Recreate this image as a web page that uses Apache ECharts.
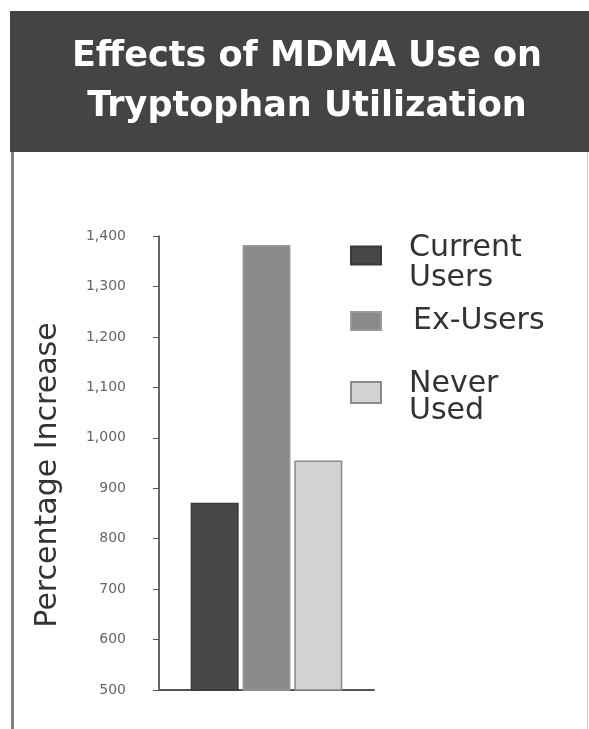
<!DOCTYPE html>
<html>
<head>
<meta charset="utf-8">
<script src="https://cdn.jsdelivr.net/npm/echarts@6.0.0/dist/echarts.min.js"></script>
<style>
html,body{margin:0;padding:0;background:#fff;}
#chart{width:589px;height:729px;}
</style>
</head>
<body>
<div id="chart"></div>
<script>
var titleLines = ['Effects of MDMA Use on', 'Tryptophan Utilization'];
var categories = [''];
var seriesNames = ['Current\nUsers', 'Ex-Users', 'Never\nUsed'];
var currentUsers = [871];
var exUsers = [1382];
var neverUsed = [955];
var yMin = 500, yMax = 1400, yStep = 100;
var yTickLabels = ['500','600','700','800','900','1,000','1,100','1,200','1,300','1,400'];
var yAxisName = 'Percentage Increase';

var colors = ['#474747', '#8a8a8a', '#d3d3d3'];
var borders = ['#3a3a3a', '#9a9a9a', '#8a8a8a'];
var values = [currentUsers, exUsers, neverUsed];
var FONT = 'DejaVu Sans';

var chart = echarts.init(document.getElementById('chart'), null, {renderer: 'canvas'});

var series = seriesNames.map(function (n, i) {
  return {
    name: n,
    type: 'bar',
    data: values[i],
    barWidth: 48,
    barGap: '8%',
    itemStyle: {color: colors[i], borderColor: borders[i], borderWidth: 1.5},
    emphasis: {disabled: true}
  };
});

// spacer: height of an invisible leading line that nudges the text below the icon centre
function legendFor(i, top, spacer, lh, padLeft, iconH) {
  return {
    orient: 'vertical',
    left: 350,
    top: top,
    padding: 0,
    data: [seriesNames[i]],
    itemWidth: 30,
    itemHeight: iconH,
    icon: 'rect',
    selectedMode: false,
    formatter: function (name) {
      var parts = name.split('\n').map(function (p) { return '{a|' + p + '}'; });
      if (spacer > 0) parts.unshift('{s| }');
      return parts.join('\n');
    },
    textStyle: {
      fontFamily: FONT, fontSize: 30, color: '#333',
      padding: [0, 0, 0, padLeft],
      rich: {
        a: {fontFamily: FONT, fontSize: 30, color: '#333', lineHeight: lh},
        s: {fontSize: 1, lineHeight: spacer}
      }
    }
  };
}

chart.setOption({
  animation: false,
  backgroundColor: '#ffffff',
  graphic: [
    {type: 'rect', shape: {x: 10, y: 11, width: 579, height: 141}, style: {fill: '#444444'}, z: -10},
    {type: 'rect', shape: {x: 11, y: 152, width: 3, height: 577}, style: {fill: '#808080'}, z: -10},
    {type: 'rect', shape: {x: 587, y: 152, width: 1, height: 577}, style: {fill: '#cfcfcf'}, z: -10}
  ],
  title: {
    text: titleLines.join('\n'),
    left: 302,
    textAlign: 'center',
    top: 27,
    textStyle: {
      color: '#ffffff', fontFamily: 'DejaVu Sans', fontWeight: 'bold', fontSize: 35, lineHeight: 50
    }
  },
  legend: [
    legendFor(0, 225, 16, 30, 23, 18),
    legendFor(1, 306, 0, 30, 27, 18),
    legendFor(2, 365, 11, 27, 23, 21)
  ],
  grid: {left: 159, right: 215, top: 236, bottom: 39, containLabel: false},
  xAxis: {
    type: 'category',
    data: categories,
    axisLine: {lineStyle: {color: '#555', width: 2}},
    axisTick: {show: false},
    axisLabel: {show: false},
    splitLine: {show: false}
  },
  yAxis: {
    type: 'value',
    min: yMin, max: yMax, interval: yStep,
    name: yAxisName,
    nameLocation: 'middle',
    nameGap: 96,
    nameTextStyle: {fontFamily: FONT, fontSize: 30, color: '#333', padding: [0, 24, 0, 0]},
    axisLine: {show: true, lineStyle: {color: '#333', width: 1.5}},
    axisTick: {show: true, inside: false, length: 6, lineStyle: {color: '#555', width: 1}},
    axisLabel: {
      margin: 33,
      fontFamily: FONT, fontSize: 14, color: '#666',
      formatter: function (v) { return yTickLabels[Math.round((v - yMin) / yStep)]; }
    },
    splitLine: {show: false}
  },
  series: series
});
</script>
</body>
</html>
